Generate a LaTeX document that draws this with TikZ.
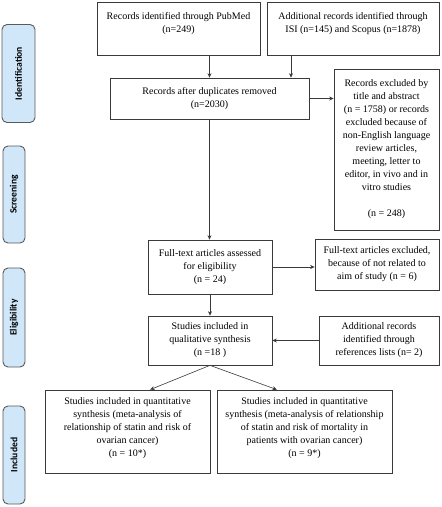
\documentclass[tikz,border=0pt]{standalone}
\usepackage{fontspec}
\setmainfont{Liberation Serif}
\newfontfamily\sidefont{Carlito}
\usetikzlibrary{arrows.meta,calc}
\definecolor{sideblue}{HTML}{CFE7F9}
\definecolor{sideedge}{HTML}{5A5A5A}
\definecolor{lineg}{HTML}{3A3A3A}
\begin{document}
\begin{tikzpicture}[x=1pt,y=-1pt,
  box/.style={draw=lineg,line width=0.7pt,align=center,inner sep=0pt,
    font=\fontsize{10}{13}\selectfont},
  side/.style={draw=sideedge,fill=sideblue,line width=0.9pt,rounded corners=5pt,
    inner sep=0pt,font=\sidefont\bfseries\fontsize{9.6}{10}\selectfont},
  arr/.style={draw=lineg,line width=0.6pt,-{Stealth[length=4.5pt,width=4pt]}}]
\useasboundingbox (0,0) rectangle (442,507);
\fill[white] (0,0) rectangle (442,507);
% side labels
\node[side,minimum width=33pt,minimum height=98pt] (sid) at (18.5,73.5) {\rotatebox{90}{Identification}};
\node[side,minimum width=22pt,minimum height=97pt] (ssc) at (14,194.5) {\rotatebox{90}{Screening}};
\node[side,minimum width=22pt,minimum height=99pt] (sel) at (14,317.5) {\rotatebox{90}{Eligibility}};
\node[side,minimum width=22pt,minimum height=98pt] (sin) at (14,455) {\rotatebox{90}{Included}};
% boxes
\node[box,minimum width=163pt,minimum height=53pt] (pub) at (178.5,28.5)
  {Records identified through PubMed\\(n=249)\\~};
\node[box,minimum width=172pt,minimum height=53pt] (isi) at (353,28.5)
  {Additional records identified through\\ISI (n=145) and Scopus (n=1878)\\~};
\node[box,minimum width=199pt,minimum height=41pt] (dup) at (209.5,98.5)
  {Records after duplicates removed\\(n=2030)};
\node[box,minimum width=105pt,minimum height=161pt] (excl) at (386.5,149.5)
  {Records excluded by\\title and abstract\\(n = 1758) or records\\excluded because of\\non-English language\\review articles,\\meeting, letter to\\editor, in vivo and in\\vitro studies\\[13pt](n = 248)};
\node[box,minimum width=124pt,minimum height=54pt] (fta) at (210,267)
  {Full-text articles assessed\\for eligibility\\(n = 24)};
\node[box,minimum width=124pt,minimum height=51pt] (fte) at (377,264.5)
  {Full-text articles excluded,\\because of not related to\\aim of study (n = 6)};
\node[box,minimum width=124pt,minimum height=49pt] (qual) at (210,340.5)
  {Studies included in\\qualitative synthesis\\(n =18 )};
\node[box,minimum width=120pt,minimum height=49pt] (ref) at (379,340.5)
  {Additional records\\identified through\\references lists (n= 2)};
\node[box,minimum width=165pt,minimum height=83pt] (q1) at (127.5,431.5)
  {Studies included in quantitative\\synthesis (meta-analysis of\\relationship of statin and risk of\\ovarian cancer)\\(n = 10*)\\[-4pt]~};
\node[box,minimum width=175pt,minimum height=83pt] (q2) at (304.5,431.5)
  {Studies included in quantitative\\synthesis (meta-analysis of relationship\\of statin and risk of mortality in\\patients with ovarian cancer)\\(n = 9*)\\[-4pt]~};
% connectors
\coordinate (cisi) at (291,0);
\draw[arr] (pub.south -| dup.north) -- (dup.north);
\draw[arr] (isi.south -| cisi) -- (dup.north -| cisi);
\draw[arr] (dup.east) -- (dup.east -| excl.west);
\draw[arr] (dup.south) -- (dup.south |- fta.north);
\draw[arr] (fta.east) -- (fta.east -| fte.west);
\draw[arr] (fta.south) -- (qual.north);
\draw[arr] (ref.west) -- (ref.west -| qual.east);
\draw[arr] (qual.south) -- ($(q1.north west)!0.636!(q1.north east)$);
\draw[arr] (qual.south) -- ($(q2.north west)!0.343!(q2.north east)$);
\end{tikzpicture}
\end{document}
